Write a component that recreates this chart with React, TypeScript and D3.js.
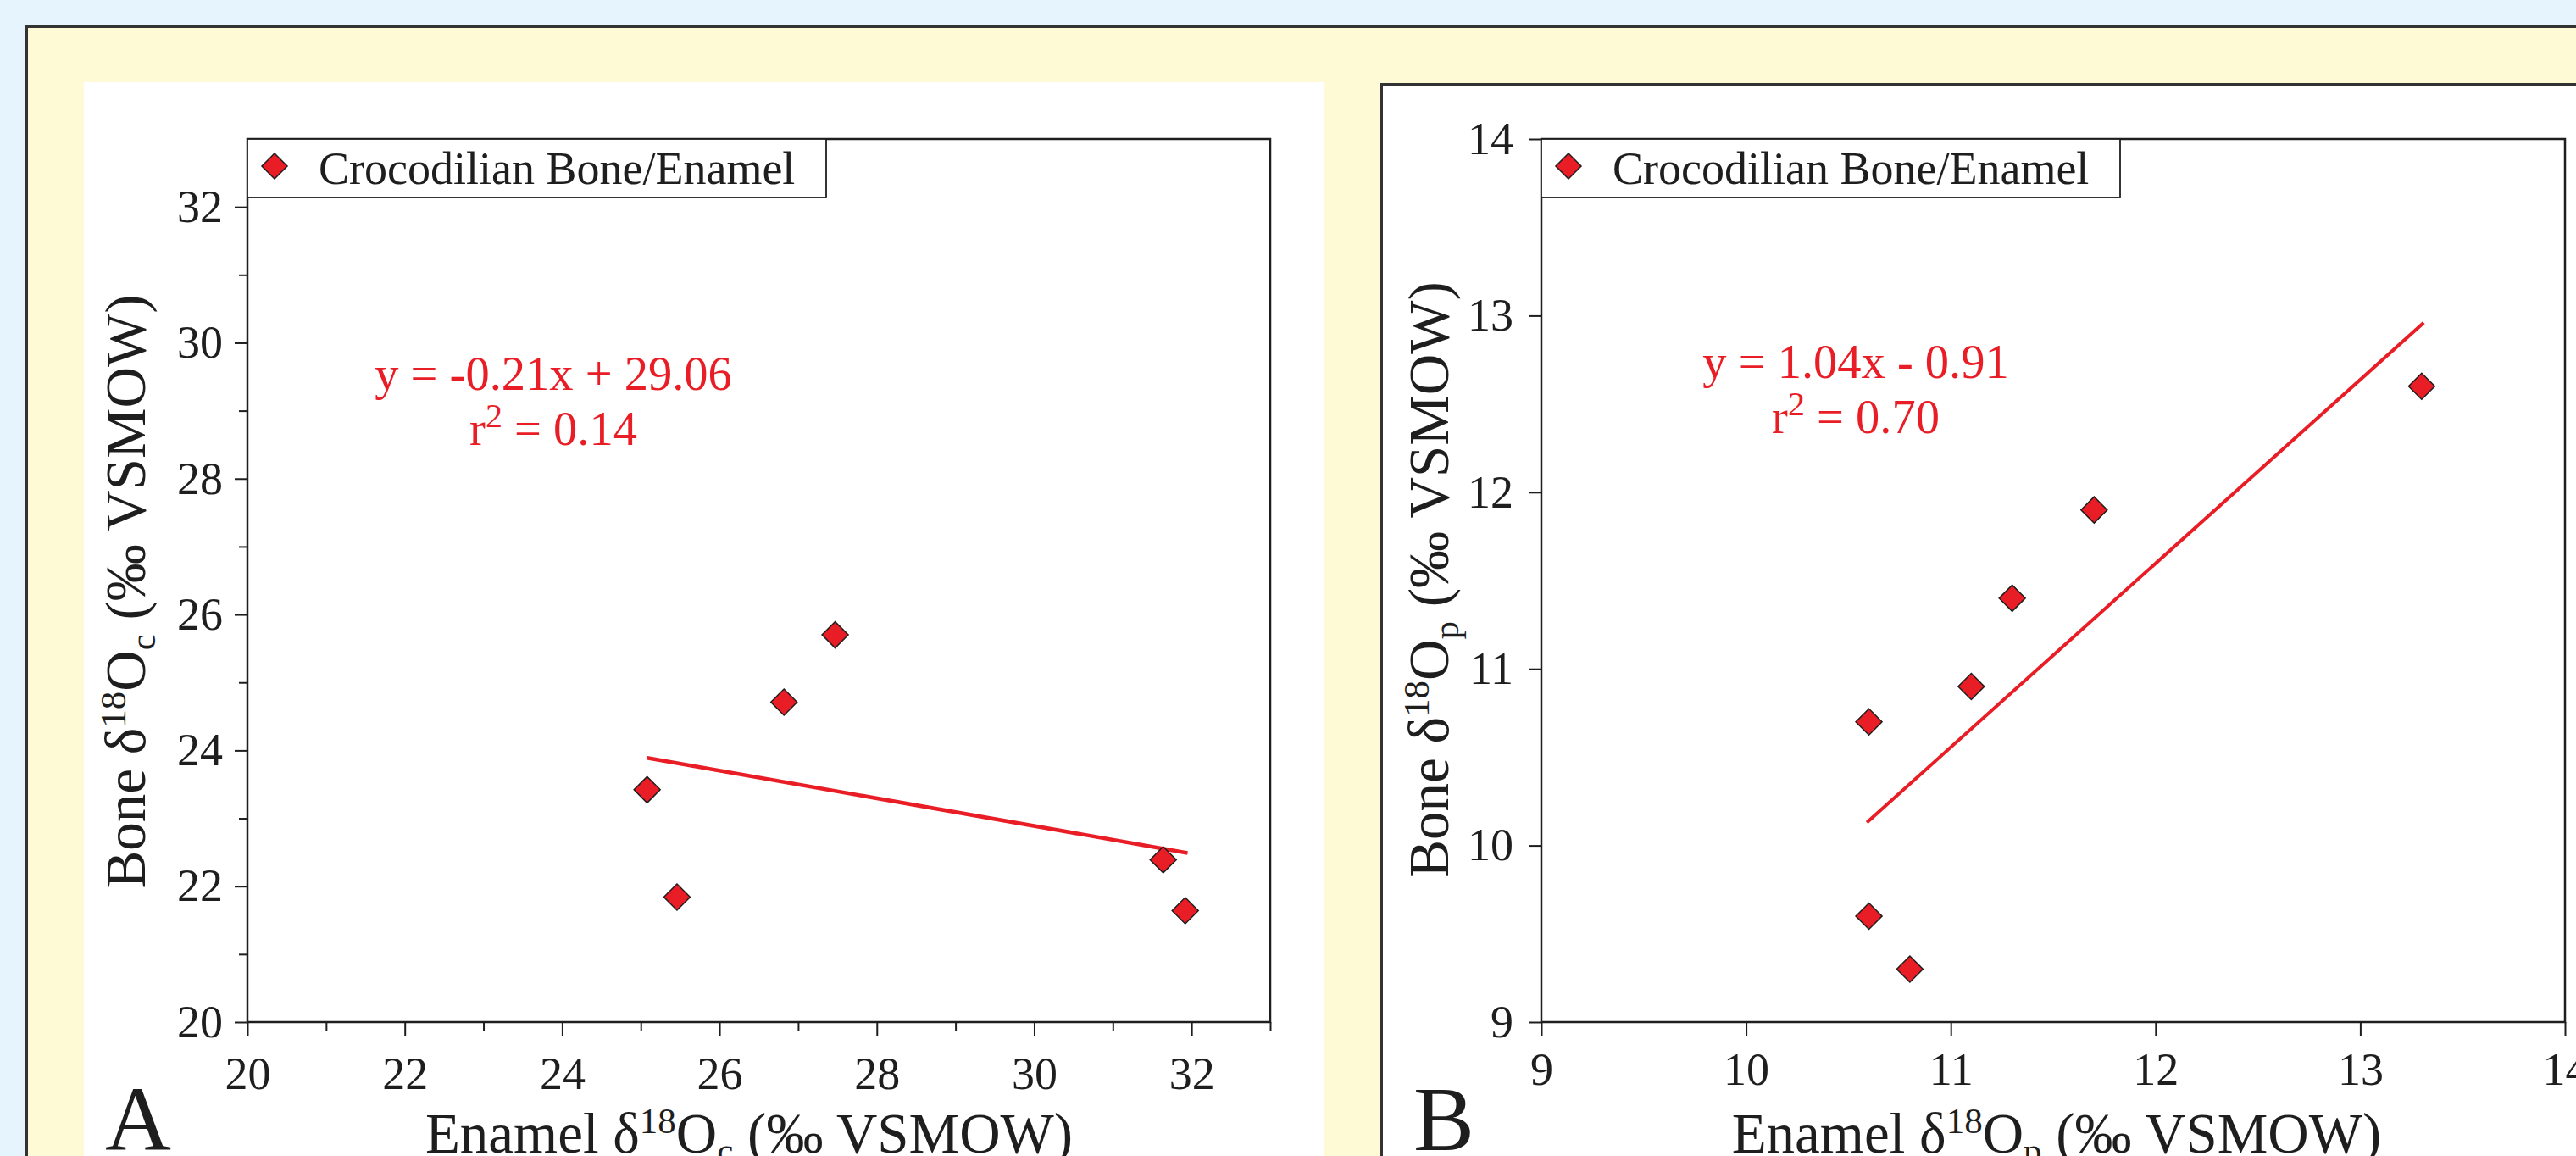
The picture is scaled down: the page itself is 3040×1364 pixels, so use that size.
import { useEffect, useRef } from 'react';
import * as d3 from 'd3';

const W = 3040;
const H = 1364;

// Panel A: carbonate oxygen
const enamelC = [25.08, 25.46, 26.82, 27.47, 31.64, 31.92];
const boneC = [23.42, 21.84, 24.71, 25.7, 22.39, 21.64];
const fitCx = [25.08, 31.95];
const fitCy = [23.89, 22.49];
const majorC = [20, 22, 24, 26, 28, 30, 32];
const minorCx = [21, 23, 25, 27, 29, 31, 33];
const minorCy = [21, 23, 25, 27, 29, 31];
const eqC = ['y = -0.21x + 29.06', '0.14'];

// Panel B: phosphate oxygen
const enamelP = [10.6, 10.6, 10.8, 11.1, 11.3, 11.7, 13.3];
const boneP = [10.7, 9.6, 9.3, 10.9, 11.4, 11.9, 12.6];
const fitPx = [10.59, 13.31];
const fitPy = [10.13, 12.96];
const majorP = [9, 10, 11, 12, 13, 14];
const eqP = ['y = 1.04x - 0.91', '0.70'];

const legendLabel = 'Crocodilian Bone/Enamel';
const RED = '#e91d25';
const INK = '#1e1e1e';
const FONT = '"Liberation Serif", "Times New Roman", serif';

function isoLabel(sel, pre, sub) {
  // "<pre> δ18O<sub> (‰ VSMOW)"
  sel.append('tspan').text(`${pre} δ`);
  sel.append('tspan').attr('font-size', 43).attr('dy', -23).text('18');
  sel.append('tspan').attr('dy', 23).text('O');
  sel.append('tspan').attr('font-size', 43).attr('dy', 12).text(sub);
  sel.append('tspan').attr('dy', -12).text(' (‰ VSMOW)');
}

function drawPanel(svg, p) {
  const x = d3.scaleLinear().domain(p.xDomain).range([p.left, p.right]);
  const y = d3.scaleLinear().domain(p.yDomain).range([p.bottom, p.top]);
  const g = svg.append('g');

  // x axis ticks
  const xa = g.append('g').attr('transform', `translate(0,${p.bottom})`)
    .call(d3.axisBottom(x).tickValues(p.xMajor).tickSize(16).tickSizeOuter(0).tickFormat(d3.format('d')));
  xa.select('.domain').remove();
  xa.selectAll('line').attr('stroke', INK).attr('stroke-width', 2);
  xa.selectAll('text')
    .attr('y', p.xLabelDy).attr('dy', 0)
    .attr('font-family', FONT).attr('font-size', 54).attr('fill', INK);
  if (p.xMinor.length) {
    const xm = g.append('g').attr('transform', `translate(0,${p.bottom})`)
      .call(d3.axisBottom(x).tickValues(p.xMinor).tickSize(11).tickSizeOuter(0).tickFormat(() => ''));
    xm.select('.domain').remove();
    xm.selectAll('line').attr('stroke', INK).attr('stroke-width', 2);
  }

  // y axis ticks
  const ya = g.append('g').attr('transform', `translate(${p.left},0)`)
    .call(d3.axisLeft(y).tickValues(p.yMajor).tickSize(15).tickSizeOuter(0).tickFormat(d3.format('d')));
  ya.select('.domain').remove();
  ya.selectAll('line').attr('stroke', INK).attr('stroke-width', 2);
  ya.selectAll('text')
    .attr('x', -p.yLabelDx).attr('dy', '0.32em')
    .attr('font-family', FONT).attr('font-size', 54).attr('fill', INK);
  if (p.yMinor.length) {
    const ym = g.append('g').attr('transform', `translate(${p.left},0)`)
      .call(d3.axisLeft(y).tickValues(p.yMinor).tickSize(10).tickSizeOuter(0).tickFormat(() => ''));
    ym.select('.domain').remove();
    ym.selectAll('line').attr('stroke', INK).attr('stroke-width', 2);
  }

  // frame
  g.append('rect')
    .attr('x', p.left).attr('y', p.top)
    .attr('width', p.right - p.left).attr('height', p.bottom - p.top)
    .attr('fill', 'none').attr('stroke', INK).attr('stroke-width', 2.5);

  // legend
  g.append('rect')
    .attr('x', p.left).attr('y', p.top)
    .attr('width', 683).attr('height', 69)
    .attr('fill', '#fff').attr('stroke', INK).attr('stroke-width', 1.8);
  g.append('path')
    .attr('d', d3.symbol(d3.symbolSquare, 450)())
    .attr('transform', `translate(${p.left + 32},${p.top + 32}) rotate(45)`)
    .attr('fill', RED).attr('stroke', INK).attr('stroke-width', 1.5);
  g.append('text')
    .attr('x', p.left + 84).attr('y', p.top + 53)
    .attr('font-family', FONT).attr('font-size', 54).attr('fill', INK)
    .text(legendLabel);

  // regression line
  g.append('path')
    .datum(d3.zip(p.fitX, p.fitY))
    .attr('d', d3.line().x(d => x(d[0])).y(d => y(d[1])))
    .attr('fill', 'none').attr('stroke', RED).attr('stroke-width', p.fitWidth);

  // points
  g.selectAll('.pt')
    .data(d3.zip(p.xs, p.ys))
    .enter().append('path')
    .attr('class', 'pt')
    .attr('d', d3.symbol(d3.symbolSquare, 480)())
    .attr('transform', d => `translate(${x(d[0])},${y(d[1])}) rotate(45)`)
    .attr('fill', RED).attr('stroke', INK).attr('stroke-width', 1.5);

  // equation
  const eq = g.append('g').attr('font-family', FONT).attr('font-size', 56.5).attr('fill', RED).attr('text-anchor', 'middle');
  eq.append('text').attr('x', p.eqX).attr('y', p.eqY).text(p.eq[0]);
  const r2 = eq.append('text').attr('x', p.eqX).attr('y', p.eqY + 65);
  r2.append('tspan').text('r');
  r2.append('tspan').attr('font-size', 40).attr('dy', -21).text('2');
  r2.append('tspan').attr('dy', 21).text(` = ${p.eq[1]}`);

  // axis titles
  const xt = g.append('text')
    .attr('x', p.xTitleX).attr('y', 1360)
    .attr('text-anchor', 'middle')
    .attr('font-family', FONT).attr('font-size', 67).attr('fill', INK);
  isoLabel(xt, 'Enamel', p.sub);
  const yt = g.append('text')
    .attr('transform', `translate(${p.yTitleX},${p.yTitleY}) rotate(-90)`)
    .attr('text-anchor', 'middle')
    .attr('font-family', FONT).attr('font-size', 67).attr('fill', INK);
  isoLabel(yt, 'Bone', p.sub);

  // panel letter
  g.append('text')
    .attr('x', p.letterX).attr('y', 1357)
    .attr('font-family', FONT).attr('font-size', 108).attr('fill', INK)
    .text(p.letter);
}

export default function App() {
  const svgRef = useRef(null);

  useEffect(() => {
    const svg = d3.select(svgRef.current);
    svg.selectAll('*').remove();

    // backgrounds
    svg.append('rect').attr('width', W).attr('height', H).attr('fill', '#e6f5fd');
    svg.append('rect')
      .attr('x', 31.5).attr('y', 31.5).attr('width', W).attr('height', H)
      .attr('fill', '#fffad6').attr('stroke', '#333').attr('stroke-width', 3);
    svg.append('rect')
      .attr('x', 99).attr('y', 97).attr('width', 1464).attr('height', H)
      .attr('fill', '#fff');
    svg.append('rect')
      .attr('x', 1630.5).attr('y', 99.5).attr('width', W).attr('height', H)
      .attr('fill', '#fff').attr('stroke', '#333').attr('stroke-width', 3);

    drawPanel(svg, {
      xDomain: [20, 33], yDomain: [20, 33],
      left: 292, right: 1499, top: 164, bottom: 1206,
      xMajor: majorC, xMinor: minorCx, yMajor: majorC, yMinor: minorCy,
      xLabelDy: 79, yLabelDx: 29,
      xs: enamelC, ys: boneC, fitX: fitCx, fitY: fitCy, fitWidth: 4.5,
      eq: eqC, eqX: 653, eqY: 460,
      sub: 'c', xTitleX: 884, yTitleX: 171, yTitleY: 698,
      letter: 'A', letterX: 124,
    });

    drawPanel(svg, {
      xDomain: [9, 14], yDomain: [9, 14],
      left: 1819, right: 3027, top: 164, bottom: 1206,
      xMajor: majorP, xMinor: [], yMajor: majorP, yMinor: [],
      xLabelDy: 74, yLabelDx: 33,
      xs: enamelP, ys: boneP, fitX: fitPx, fitY: fitPy, fitWidth: 4,
      eq: eqP, eqX: 2190, eqY: 446,
      sub: 'p', xTitleX: 2427, yTitleX: 1709, yTitleY: 684,
      letter: 'B', letterX: 1668,
    });
  }, []);

  return (
    <svg
      ref={svgRef}
      width={W}
      height={H}
      style={{ position: 'absolute', left: 0, top: 0, display: 'block' }}
    ></svg>
  );
}
